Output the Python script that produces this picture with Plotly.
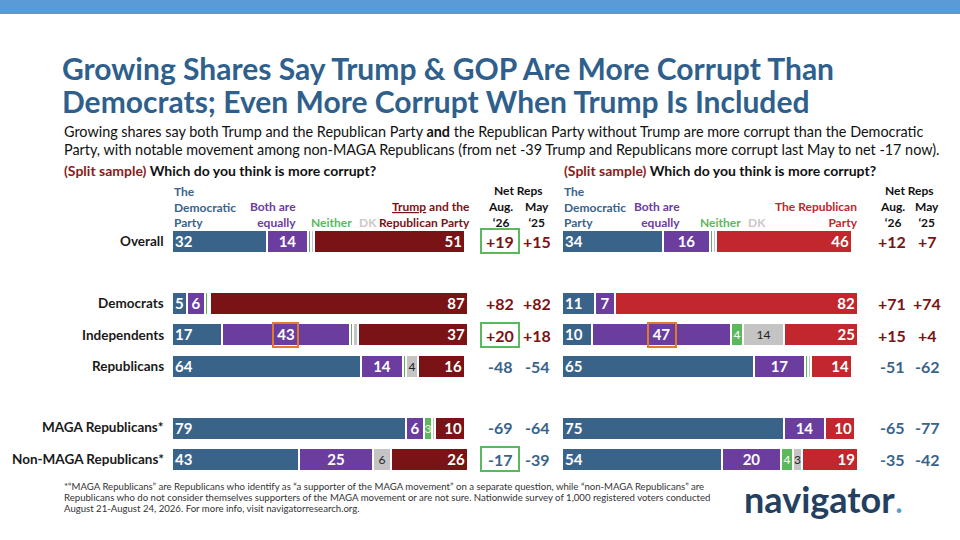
import plotly.graph_objects as go

groups = ["Overall", "Democrats", "Independents", "Republicans", "MAGA Republicans*", "Non-MAGA Republicans*"]
ypos = [0, 2, 3, 4, 6, 7]

# Left: Trump and the Republican Party
L_dem = [32, 5, 17, 64, 79, 43]
L_both = [14, 6, 43, 14, 6, 25]
L_neither = [1, 1, 1, 1, 3, 0]
L_dk = [1, 1, 2, 4, 1, 6]
L_rep = [51, 87, 37, 16, 10, 26]
L_aug = ["+19", "+82", "+20", "-48", "-69", "-17"]
L_may = ["+15", "+82", "+18", "-54", "-64", "-39"]

# Right: The Republican Party
R_dem = [34, 11, 10, 65, 75, 54]
R_both = [16, 7, 47, 17, 14, 20]
R_neither = [1, 0, 4, 1, 0, 4]
R_dk = [1, 0, 14, 1, 0, 3]
R_rep = [46, 82, 25, 14, 10, 19]
R_aug = ["+12", "+71", "+15", "-51", "-65", "-35"]
R_may = ["+7", "+74", "+4", "-62", "-77", "-42"]

BLUE = "#3a6389"; PURPLE = "#6a3d9f"; GREEN = "#5cb85c"; GRAY = "#c4c4c4"
DRED = "#7a1315"; RED = "#c1272d"; TITLE = "#2f5f8c"
FONT = "Lato"

fig = go.Figure()

def add_panel(vals, colors, anchors, xa, txtcolors, minshow, bold):
    for v, c, an, tc, ms, b in zip(vals, colors, anchors, txtcolors, minshow, bold):
        fig.add_trace(go.Bar(
            x=v, y=ypos, orientation="h", xaxis=xa, yaxis="y",
            marker=dict(color=c, line=dict(color="white", width=2)),
            width=0.74, textangle=0,
            text=[(("<b>%d</b>" % a) if b else str(a)) if a >= ms else "" for a in v],
            textposition="inside", insidetextanchor=an, constraintext="none",
            textfont=dict(color=tc, size=15 if b else 12, family=FONT),
            showlegend=False, hoverinfo="skip", cliponaxis=False))

add_panel([L_dem, L_both, L_neither, L_dk, L_rep], [BLUE, PURPLE, GREEN, GRAY, DRED],
          ["start", "middle", "middle", "middle", "end"], "x",
          ["white", "white", "#e8f5e0", "#222", "white"], [1, 1, 3, 3, 1], [1, 1, 0, 0, 1])
add_panel([R_dem, R_both, R_neither, R_dk, R_rep], [BLUE, PURPLE, GREEN, GRAY, RED],
          ["start", "middle", "middle", "middle", "end"], "x2",
          ["white", "white", "white", "#222", "white"], [1, 1, 3, 3, 1], [1, 1, 0, 0, 1])

def py(px):
    return 1 - px / 540

fig.update_layout(
    width=960, height=540, barmode="stack", bargap=0,
    margin=dict(l=0, r=0, t=0, b=0), plot_bgcolor="white", paper_bgcolor="white",
    font=dict(family=FONT),
    xaxis=dict(domain=[172/960, 468/960], range=[0, 100], visible=False, fixedrange=True),
    xaxis2=dict(domain=[562/960, 858/960], range=[0, 100], visible=False, fixedrange=True),
    yaxis=dict(domain=[py(474.5), py(225.5)], range=[7.5, -0.5], visible=False),
)

ann = []
def A(x, y, text, size=12, color="#222", xanchor="left", yanchor="middle", align="left"):
    ann.append(dict(x=x/960, y=py(y), xref="paper", yref="paper", text=text, showarrow=False,
                    font=dict(size=size, color=color, family=FONT), xanchor=xanchor,
                    yanchor=yanchor, align=align))

A(60, 68, "<b>Growing Shares Say Trump & GOP Are More Corrupt Than</b>", 30, TITLE)
A(60, 101, "<b>Democrats; Even More Corrupt When Trump Is Included</b>", 30, TITLE)
A(62, 131, "Growing shares say both Trump and the Republican Party <b>and</b> the Republican Party without Trump are more corrupt than the Democratic", 14.4, "#111")
A(62, 149, "Party, with notable movement among non-MAGA Republicans (from net -39 Trump and Republicans more corrupt last May to net -17 now).", 14.4, "#111")
A(62, 170, "<b><span style='color:#8b1a1a'>(Split sample)</span> Which do you think is more corrupt?</b>", 14, "#111")
A(562, 170, "<b><span style='color:#8b1a1a'>(Split sample)</span> Which do you think is more corrupt?</b>", 14, "#111")

HS = 12
# headers left
A(172, 207, "<b>The<br>Democratic<br>Party</b>", HS, BLUE)
A(298, 214, "<b>Both are<br>equally</b>", HS, PURPLE, xanchor="right", align="right")
A(309, 222, "<b>Neither</b>", HS, GREEN)
A(357, 222, "<b>DK</b>", HS, "#c8c8c8")
A(472, 214, "<b><u>Trump</u> and the<br>Republican Party</b>", HS, DRED, xanchor="right", align="right")
# headers right
A(562, 207, "<b>The<br>Democratic<br>Party</b>", HS, BLUE)
A(682, 214, "<b>Both are<br>equally</b>", HS, PURPLE, xanchor="right", align="right")
A(698, 222, "<b>Neither</b>", HS, GREEN)
A(746, 222, "<b>DK</b>", HS, "#c8c8c8")
A(860, 214, "<b>The Republican<br>Party</b>", HS, RED, xanchor="right", align="right")

for cx, mx in [(500, 537), (892, 927)]:
    A((cx+mx)/2, 191, "<b>Net Reps</b>", HS, "#111", xanchor="center")
    A(cx, 214, "<b>Aug.<br>‘26</b>", HS, "#111", xanchor="center", align="center")
    A(mx, 214, "<b>May<br>‘25</b>", HS, "#111", xanchor="center", align="center")

row_px = [241, 303, 335, 366, 427, 459]
for g, yp in zip(groups, row_px):
    A(166, yp, "<b>" + g + "</b>", 13.5, "#1a1a1a", xanchor="right")

def netcol(vals, x):
    for v, yp in zip(vals, row_px):
        col = DRED if v.startswith("+") else BLUE
        A(x, yp, "<b>" + v + "</b>", 16, col, xanchor="center")

netcol(L_aug, 500); netcol(L_may, 537); netcol(R_aug, 892); netcol(R_may, 927)

A(62, 486, "*“MAGA Republicans” are Republicans who identify as “a supporter of the MAGA movement” on a separate question, while “non-MAGA Republicans” are", 9.6, "#333")
A(62, 497, "Republicans who do not consider themselves supporters of the MAGA movement or are not sure. Nationwide survey of 1,000 registered voters conducted", 9.6, "#333")
A(62, 508, "August 21-August 24, 2026. For more info, visit navigatorresearch.org.", 9.6, "#333")
A(742, 499, "<b>navigator</b><span style='color:#5b9bd5'>.</span>", 36, "#243f60")

fig.update_layout(annotations=ann)

shapes = [dict(type="rect", xref="paper", yref="paper", x0=0, x1=1, y0=py(14), y1=1,
               fillcolor="#5b9bd5", line=dict(width=0), layer="below")]
def box(x0, y0, x1, y1, c):
    shapes.append(dict(type="rect", xref="paper", yref="paper", x0=x0/960, x1=x1/960,
                       y0=py(y1), y1=py(y0), line=dict(color=c, width=2)))
for yp in [241, 335, 459]:
    box(481, yp-12, 519, yp+12, "#5cb85c")
box(273, 323, 298, 347, "#e07b2a")
box(648, 323, 676, 347, "#e07b2a")
fig.update_layout(shapes=shapes)

fig.write_html("out.html", config={"displayModeBar": False},
               post_script="document.body.style.margin='0';document.body.style.padding='0';")
